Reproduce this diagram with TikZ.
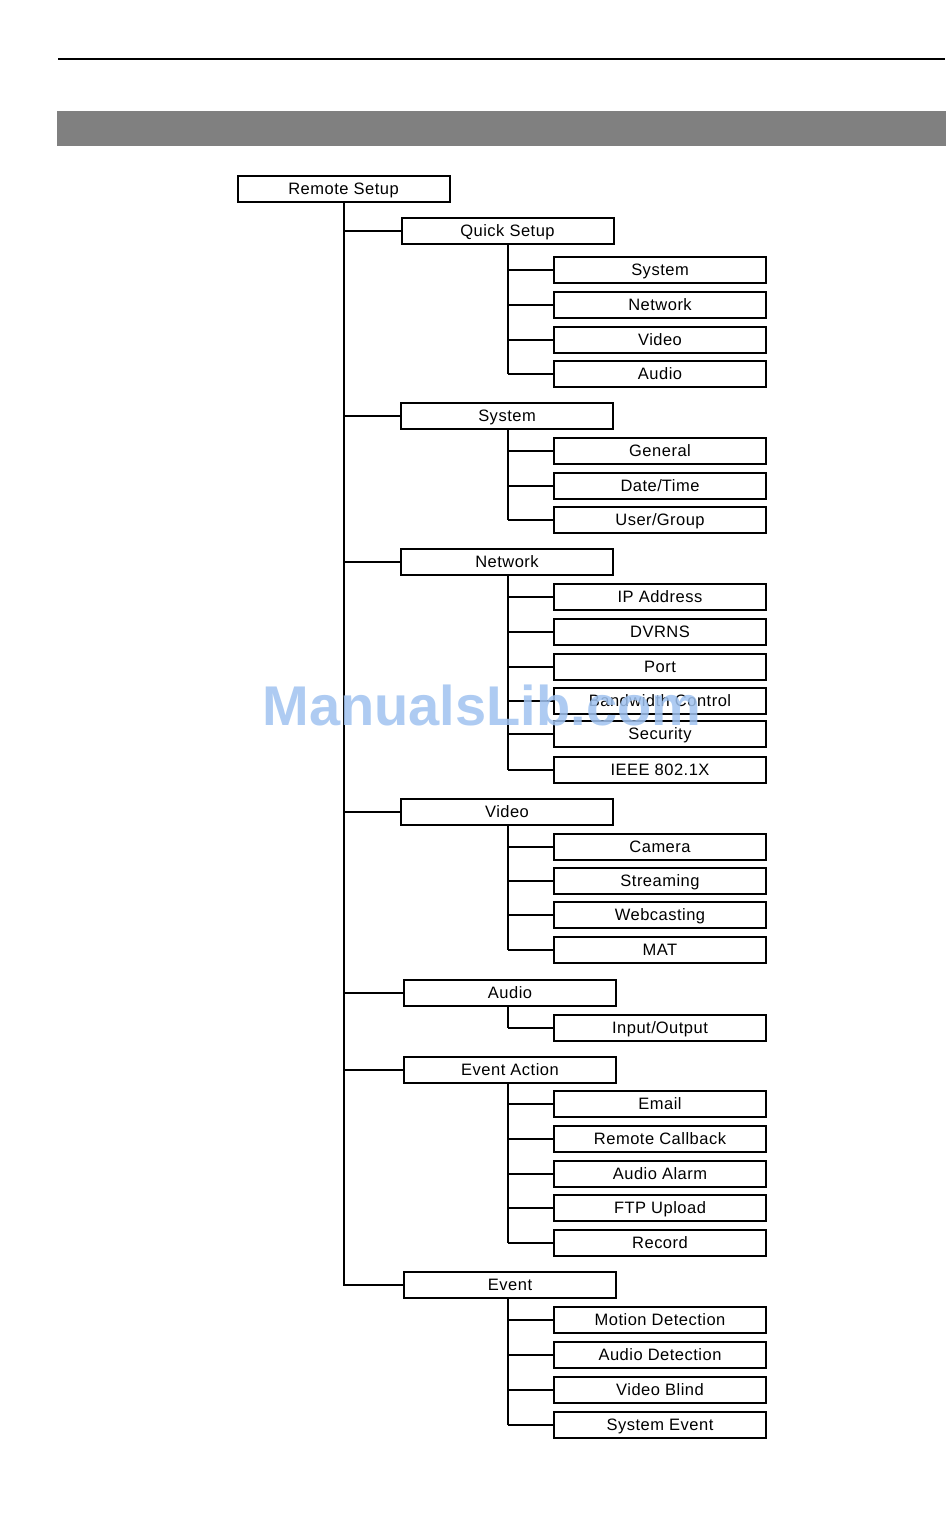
\documentclass[tikz,border=0pt]{standalone}
\usepackage{fontspec}
\setmainfont{Liberation Sans}[LetterSpace=3]
\newfontfamily\wmfont{Liberation Sans}[LetterSpace=0]
\definecolor{barGray}{RGB}{128,128,128}
\definecolor{wmBlue}{RGB}{160,195,240}
\begin{document}
\begin{tikzpicture}[x=1pt,y=-1pt,
  box/.style={draw=black,line width=2pt,minimum width=212pt,minimum height=26pt,inner sep=0pt,
    font=\fontsize{16.5}{18}\selectfont,text height=11.8pt,text depth=0pt,anchor=center},
  link/.style={line width=1.5pt},
  trunk/.style={line width=2pt,line join=miter}]
\useasboundingbox (0,0) rectangle (950,1521);
\fill[white] (0,0) rectangle (950,1521);
% header
\draw[line width=2.2pt] (58,59) -- (945,59);
\fill[barGray] (57,111) rectangle (946,146);
% root
\node[box] (root) at (343.5,188.5) {Remote Setup};
% level 1
\node[box] (qs) at (507.5,231) {Quick Setup};
\node[box] (sys) at (507,416) {System};
\node[box] (net) at (507,562) {Network};
\node[box] (vid) at (507,812) {Video};
\node[box] (aud) at (510,993) {Audio};
\node[box] (ea) at (510,1070) {Event Action};
\node[box] (ev) at (510,1285) {Event};
% level 2
\foreach \n/\y/\t in {qs1/270/System, qs2/305/Network, qs3/340/Video, qs4/374/Audio,
  sy1/451/General, sy2/486/Date\slash Time, sy3/520/User\slash Group,
  ne1/597/IP Address, ne2/632/DVRNS, ne3/667/Port, ne4/701/Bandwidth Control, ne5/734/Security, ne6/770/IEEE 802.1X,
  vi1/847/Camera, vi2/881/Streaming, vi3/915/Webcasting, vi4/950/MAT,
  au1/1028/Input\slash Output,
  ea1/1104/Email, ea2/1139/Remote Callback, ea3/1174/Audio Alarm, ea4/1208/FTP Upload, ea5/1243/Record,
  ev1/1320/Motion Detection, ev2/1355/Audio Detection, ev3/1390/Video Blind, ev4/1425/System Event}
  \node[box] (\n) at (660,\y) {\t};
% trunk
\coordinate (tbottom) at (344,1285);
\draw[trunk] (344,0 |- root.south) -- (tbottom) -- (ev.west);
\foreach \p in {qs,sys,net,vid,aud,ea}
  \draw[trunk] (344,0 |- \p.west) -- (\p.west);
% sub-trunks
\foreach \p/\last/\kids in {qs/qs4/{qs1,qs2,qs3,qs4}, sys/sy3/{sy1,sy2,sy3}, net/ne6/{ne1,ne2,ne3,ne4,ne5,ne6},
  vid/vi4/{vi1,vi2,vi3,vi4}, aud/au1/{au1}, ea/ea5/{ea1,ea2,ea3,ea4,ea5}, ev/ev4/{ev1,ev2,ev3,ev4}}{
  \draw[link] (508,0 |- \p.south) -- (508,0 |- \last.west);
  \foreach \k in \kids
    \draw[link] (508,0 |- \k.west) -- (\k.west);
}
% watermark
\node[text=wmBlue,opacity=0.85,font=\wmfont\bfseries\fontsize{56}{60}\selectfont,inner sep=0pt] (wm) at (482,705) {ManualsLib.com};
\end{tikzpicture}
\end{document}
